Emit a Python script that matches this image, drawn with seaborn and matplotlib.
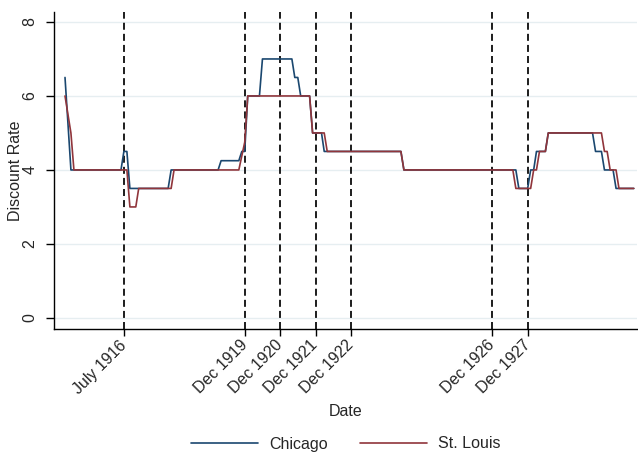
import matplotlib
matplotlib.use("Agg")
import matplotlib.pyplot as plt
import pandas as pd
import seaborn as sns

# vertices of the monthly discount rate series (year-month, percent)
chicago_dates = ["1914-11", "1915-01", "1916-06", "1916-07", "1916-08", "1916-09",
                 "1917-10", "1917-11", "1919-03", "1919-04", "1919-10", "1919-11",
                 "1919-12", "1920-01", "1920-05", "1920-06", "1921-04", "1921-05",
                 "1921-06", "1921-07", "1921-10", "1921-11", "1922-02", "1922-03",
                 "1924-05", "1924-06", "1927-08", "1927-09", "1927-12", "1928-01",
                 "1928-02", "1928-03", "1928-06", "1928-07", "1929-10", "1929-11",
                 "1930-01", "1930-02", "1930-05", "1930-06", "1930-12"]
chicago_rates = [6.5, 4, 4, 4.5, 4.5, 3.5,
                 3.5, 4, 4, 4.25, 4.25, 4.5,
                 4.5, 6, 6, 7, 7, 6.5,
                 6.5, 6, 6, 5, 5, 4.5,
                 4.5, 4, 4, 3.5, 3.5, 4,
                 4, 4.5, 4.5, 5, 5, 4.5,
                 4.5, 4, 4, 3.5, 3.5]

stlouis_dates = ["1914-11", "1915-01", "1915-02", "1916-08", "1916-09", "1916-11",
                 "1916-12", "1917-11", "1917-12", "1919-10", "1919-12", "1920-01",
                 "1921-10", "1921-11", "1922-03", "1922-04", "1924-05", "1924-06",
                 "1927-07", "1927-08", "1928-01", "1928-02", "1928-03", "1928-04",
                 "1928-06", "1928-07", "1930-01", "1930-02", "1930-03", "1930-04",
                 "1930-06", "1930-07", "1930-12"]
stlouis_rates = [6, 5, 4, 4, 3, 3,
                 3.5, 3.5, 4, 4, 4.75, 6,
                 6, 5, 5, 4.5, 4.5, 4,
                 4, 3.5, 3.5, 4, 4, 4.5,
                 4.5, 5, 5, 4.5, 4.5, 4,
                 4, 3.5, 3.5]

event_dates = ["1916-07", "1919-12", "1920-12", "1921-12", "1922-12", "1926-12", "1927-12"]
event_labels = ["July 1916", "Dec 1919", "Dec 1920", "Dec 1921", "Dec 1922", "Dec 1926", "Dec 1927"]

df = pd.concat([
    pd.DataFrame({"Date": pd.to_datetime(chicago_dates), "Rate": chicago_rates, "Bank": "Chicago"}),
    pd.DataFrame({"Date": pd.to_datetime(stlouis_dates), "Rate": stlouis_rates, "Bank": "St. Louis"}),
])

sns.set_style("white")
plt.rcParams["font.family"] = ["Liberation Sans", "DejaVu Sans"]
plt.rcParams["font.size"] = 11.5

fig, ax = plt.subplots(figsize=(6.38, 4.54), dpi=100)
fig.subplots_adjust(left=0.0846, right=0.999, bottom=0.2753, top=0.9736)

for d in event_dates:
    ax.axvline(pd.Timestamp(d), color="#1c1c1c", lw=1.4, ls=(0, (3.6, 2.1)), zorder=1)

sns.lineplot(data=df, x="Date", y="Rate", hue="Bank",
             palette={"Chicago": "#1a476f", "St. Louis": "#90353b"},
             lw=1.2, ax=ax, zorder=3)

ax.set_ylim(-0.3, 8.27)
ax.set_xlim(pd.Timestamp("1914-07-10"), pd.Timestamp("1931-01-07"))
ax.set_yticks([0, 2, 4, 6, 8])
ax.yaxis.grid(True, color="#e6eef1", lw=1)
ax.xaxis.grid(False)
ax.set_xticks(pd.to_datetime(event_dates))
ax.set_xticklabels(event_labels, rotation=45, ha="right", va="center", rotation_mode="anchor")
ax.tick_params(axis="y", labelrotation=90, length=6, width=1, color="black",
               direction="out", left=True, pad=6, labelsize=11.5)
ax.tick_params(axis="x", length=5, width=1, color="black", direction="out",
               bottom=True, pad=5, labelsize=11.5)
for lab in ax.get_yticklabels():
    lab.set_va("center")

for side in ["top", "right"]:
    ax.spines[side].set_visible(False)
for side in ["left", "bottom"]:
    ax.spines[side].set_color("black")
    ax.spines[side].set_linewidth(1)

ax.set_xlabel("Date", fontsize=11.5)
ax.set_ylabel("Discount Rate", fontsize=11.5)
ax.xaxis.set_label_coords(0.5, -0.235)
ax.yaxis.set_label_coords(-0.053, 0.5)

sns.move_legend(ax, "center", bbox_to_anchor=(346 / 638, 1 - 444 / 454),
                bbox_transform=fig.transFigure, ncol=2, frameon=False, title=None,
                fontsize=11.5, handlelength=4.2, handletextpad=0.7, columnspacing=2.0,
                borderpad=0.2)

fig.savefig("out.png", dpi=100)
